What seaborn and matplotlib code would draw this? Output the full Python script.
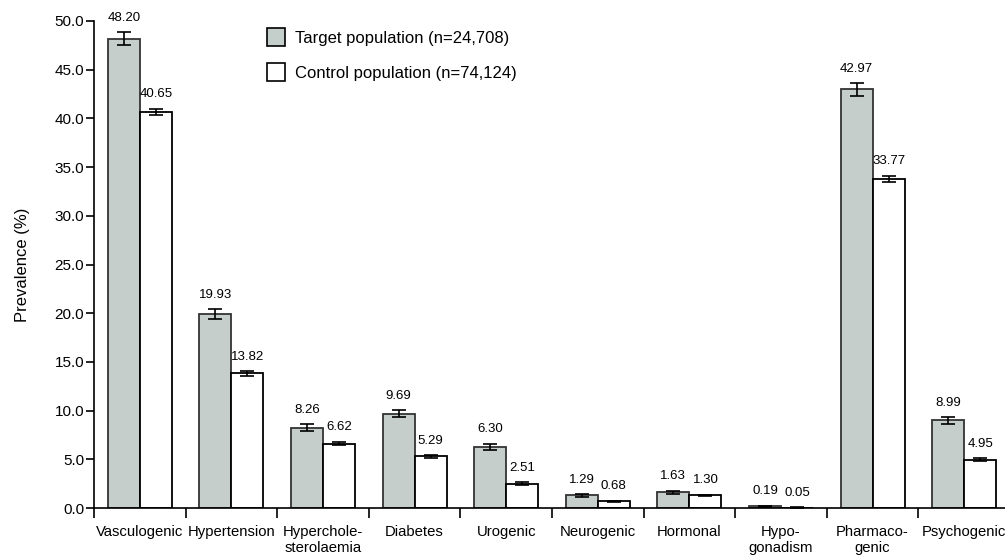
import seaborn as sns
import matplotlib
matplotlib.use("Agg")
import matplotlib.pyplot as plt
import pandas as pd
from matplotlib.patches import Patch

# 데이터
categories = ["Vasculogenic", "Hypertension", "Hypercholesterolaemia", "Diabetes", "Urogenic",
              "Neurogenic", "Hormonal", "Hypogonadism", "Pharmacogenic", "Psychogenic"]
tick_labels = ["Vasculogenic", "Hypertension", "Hyperchole-\nsterolaemia", "Diabetes", "Urogenic",
               "Neurogenic", "Hormonal", "Hypo-\ngonadism", "Pharmaco-\ngenic", "Psychogenic"]
target = [48.20, 19.93, 8.26, 9.69, 6.30, 1.29, 1.63, 0.19, 42.97, 8.99]
control = [40.65, 13.82, 6.62, 5.29, 2.51, 0.68, 1.30, 0.05, 33.77, 4.95]
target_err = [0.62, 0.50, 0.34, 0.37, 0.30, 0.14, 0.16, 0.05, 0.62, 0.36]
control_err = [0.35, 0.25, 0.18, 0.16, 0.11, 0.06, 0.08, 0.02, 0.34, 0.16]
groups = ["Target population (n=24,708)", "Control population (n=74,124)"]

df = pd.DataFrame({
    "category": categories * 2,
    "value": target + control,
    "err": target_err + control_err,
    "group": [groups[0]] * len(categories) + [groups[1]] * len(categories),
})

plt.rcParams["font.family"] = ["Liberation Sans", "DejaVu Sans"]
gray = "#c4cfcc"

fig = plt.figure(figsize=(10.05, 5.59), dpi=100)
ax = fig.add_axes([94 / 1005, 1 - 508 / 559, 916 / 1005, 487 / 559])

sns.barplot(data=df, x="category", y="value", hue="group", order=categories,
            hue_order=groups, palette=[gray, "white"], width=0.7, errorbar=None,
            edgecolor="black", linewidth=1.3, legend=False, ax=ax)
for p in ax.containers[0]:
    p.set_edgecolor("#333333")

# error bars + labels
for bars, (vals, errs) in zip(ax.containers, [(target, target_err), (control, control_err)]):
    for p, v, e in zip(bars, vals, errs):
        xc = p.get_x() + p.get_width() / 2
        ax.errorbar(xc, v, yerr=e, fmt="none", ecolor="black", elinewidth=1.2,
                    capsize=5, capthick=1.2)
        ax.annotate(f"{v:.2f}", (xc, v + e), xytext=(0, 6), textcoords="offset points",
                    ha="center", va="bottom", fontsize=9.5)

ax.set_xlim(-0.5, len(categories) - 0.5)
ax.set_ylim(0, 50)
ax.set_yticks([0, 5, 10, 15, 20, 25, 30, 35, 40, 45, 50])
ax.set_yticklabels([f"{t:.1f}" for t in ax.get_yticks()], fontsize=11)
ax.set_xticks(range(len(categories)))
ax.set_xticklabels(tick_labels, fontsize=10.7)
ax.set_xticks([i - 0.5 for i in range(len(categories) + 1)], minor=True)
ax.tick_params(axis="x", which="major", length=0, pad=12)
ax.tick_params(axis="x", which="minor", length=7, width=1.2)
ax.tick_params(axis="y", length=6, width=1.2, pad=1)
ax.set_xlabel("")
ax.set_ylabel("Prevalence (%)", fontsize=12, labelpad=18)

for s in ["top", "right"]:
    ax.spines[s].set_visible(False)
ax.spines["left"].set_linewidth(1.2)
ax.spines["bottom"].set_linewidth(1.2)

handles = [Patch(facecolor=gray, edgecolor="black", linewidth=1.2),
           Patch(facecolor="white", edgecolor="black", linewidth=1.2)]
fig.legend(handles, groups, loc="upper left", bbox_to_anchor=(252 / 1005, 1 - 13 / 559),
           frameon=False, fontsize=12, handlelength=1.1, handleheight=1.3,
           handletextpad=0.6, labelspacing=1.0)

fig.savefig("out.png", dpi=100)
